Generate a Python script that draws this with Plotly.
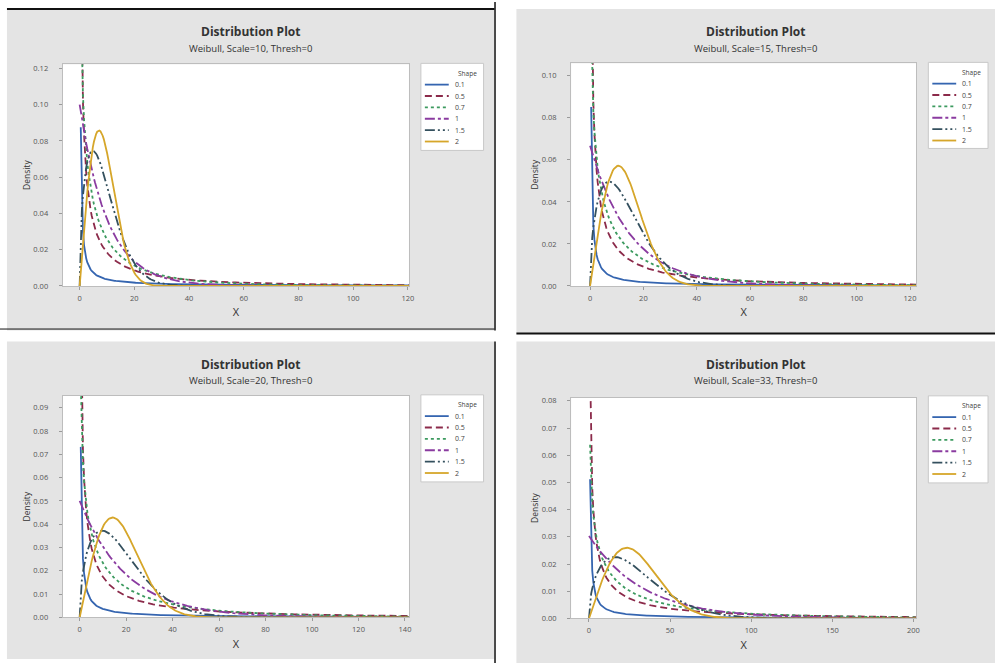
import numpy as np
import plotly.graph_objects as go

# ---- chart data ----
SHAPES = [0.1, 0.5, 0.7, 1.0, 1.5, 2.0]
SHAPE_LABELS = ["0.1", "0.5", "0.7", "1", "1.5", "2"]
SCALES = [10, 15, 20, 33]
SUBTITLES = ["Weibull, Scale=10, Thresh=0", "Weibull, Scale=15, Thresh=0",
             "Weibull, Scale=20, Thresh=0", "Weibull, Scale=33, Thresh=0"]
X_MIN = [-6.2, -7.1, -7.3, -11.0]
X_MAX = [120.4, 122.4, 141.7, 201.8]
Y_MAX = [0.1222, 0.1059, 0.0951, 0.0811]
X_TICKS = [[0, 20, 40, 60, 80, 100, 120],
           [0, 20, 40, 60, 80, 100, 120],
           [0, 20, 40, 60, 80, 100, 120, 140],
           [0, 50, 100, 150, 200]]
Y_TICKS = [[0.00, 0.02, 0.04, 0.06, 0.08, 0.10, 0.12],
           [0.00, 0.02, 0.04, 0.06, 0.08, 0.10],
           [0.00, 0.01, 0.02, 0.03, 0.04, 0.05, 0.06, 0.07, 0.08, 0.09],
           [0.00, 0.01, 0.02, 0.03, 0.04, 0.05, 0.06, 0.07, 0.08]]

# ---- styles / geometry (pixels in the 1000x668 page) ----
COLORS = ["#3565B0", "#8B2A4A", "#3C9A5F", "#8A3BA0", "#34505E", "#D6A62A"]
DASHES = ["solid", "7px,4px", "3px,3px", "10px,3px,3px,3px",
          "10px,3px,2px,3px,2px,3px", "solid"]
W, H = 1000, 668
PLOT_BOX = [(63, 411, 63, 287), (574, 921, 62, 287),
            (63, 411, 398, 622), (574, 921, 400, 623)]
GRAY_BOX = [(7, 497, 7, 332), (519, 1000, 7, 335),
            (7, 497, 343, 664), (519, 1000, 343, 668)]
LEGEND_BOX = [(423, 486, 62, 150), (933, 993, 61, 148),
              (423, 486, 397, 485), (933, 993, 398, 486)]
FONT = "Open Sans, Noto Sans, sans-serif"


def px_x(v):
    return v / W


def px_y(v):
    return 1 - v / H


def weibull_pdf(x, k, lam):
    return (k / lam) * (x / lam) ** (k - 1) * np.exp(-(x / lam) ** k)


fig = go.Figure()
shapes = []
annotations = []
layout = {}

for p in range(4):
    ax = "" if p == 0 else str(p + 1)
    xref, yref = "x" + ax, "y" + ax
    n = 300
    grid = np.linspace(X_MAX[p] / n, X_MAX[p], n)
    for i, k in enumerate(SHAPES):
        xs = grid if k < 1 else np.concatenate([[0.0], grid])
        ys = weibull_pdf(xs, k, SCALES[p])
        fig.add_trace(go.Scatter(
            x=xs, y=ys, mode="lines", name=SHAPE_LABELS[i],
            xaxis=xref, yaxis=yref, showlegend=False,
            line=dict(color=COLORS[i], width=1.8, dash=DASHES[i])))

    x0, x1, y0, y1 = PLOT_BOX[p]
    common = dict(showgrid=False, zeroline=False, showline=True,
                  linecolor="#BDBDBD", linewidth=1, mirror=True,
                  ticks="outside", ticklen=3, tickcolor="#9A9A9A",
                  tickfont=dict(family=FONT, size=7.5, color="#555555"))
    layout["xaxis" + ax] = dict(
        domain=[px_x(x0), px_x(x1)], anchor=yref, range=[X_MIN[p], X_MAX[p]],
        tickvals=X_TICKS[p], ticklabelstandoff=2,
        title=dict(text="X", standoff=6,
                   font=dict(family=FONT, size=11, color="#333333")),
        **common)
    layout["yaxis" + ax] = dict(
        domain=[px_y(y1), px_y(y0)], anchor=xref, range=[0, Y_MAX[p]],
        tickvals=Y_TICKS[p], tickformat=".2f", ticklabelstandoff=9,
        title=dict(text="Density", standoff=1,
                   font=dict(family=FONT, size=8.5, color="#333333")),
        **common)

    # panel background
    g0, g1, h0, h1 = GRAY_BOX[p]
    shapes.append(dict(type="rect", xref="paper", yref="paper", layer="below",
                       x0=px_x(g0), x1=px_x(g1), y0=px_y(h1), y1=px_y(h0),
                       fillcolor="#E4E4E4", line=dict(width=0)))
    shapes.append(dict(type="rect", xref="paper", yref="paper", layer="below",
                       x0=px_x(x0), x1=px_x(x1), y0=px_y(y1), y1=px_y(y0),
                       fillcolor="white", line=dict(width=0)))

    # titles
    cx = (g0 + g1) / 2
    annotations.append(dict(text="<b>Distribution Plot</b>", xref="paper",
                            yref="paper", x=px_x(cx), y=px_y(h0 + 23),
                            xanchor="center", yanchor="middle", showarrow=False,
                            font=dict(family=FONT, size=12, color="#333333")))
    annotations.append(dict(text=SUBTITLES[p], xref="paper", yref="paper",
                            x=px_x(cx), y=px_y(h0 + 40), xanchor="center",
                            yanchor="middle", showarrow=False,
                            font=dict(family=FONT, size=9.5, color="#333333")))

    # legend box (drawn like the Minitab legend)
    lx0, lx1, ly0, ly1 = LEGEND_BOX[p]
    shapes.append(dict(type="rect", xref="paper", yref="paper",
                       x0=px_x(lx0), x1=px_x(lx1), y0=px_y(ly1), y1=px_y(ly0),
                       fillcolor="white", line=dict(color="#C8C8C8", width=1)))
    annotations.append(dict(text="Shape", xref="paper", yref="paper",
                            x=px_x(lx1 - 5), y=px_y(ly0 + 10), xanchor="right",
                            yanchor="middle", showarrow=False,
                            font=dict(family=FONT, size=6.5, color="#444444")))
    for i, lab in enumerate(SHAPE_LABELS):
        yy = ly0 + 21.5 + 11.5 * i
        shapes.append(dict(type="line", xref="paper", yref="paper",
                           x0=px_x(lx0 + 4), x1=px_x(lx0 + 28),
                           y0=px_y(yy), y1=px_y(yy),
                           line=dict(color=COLORS[i], width=1.8,
                                     dash=DASHES[i])))
        annotations.append(dict(text=lab, xref="paper", yref="paper",
                                x=px_x(lx0 + 32), y=px_y(yy), xanchor="left",
                                yanchor="middle", showarrow=False,
                                font=dict(family=FONT, size=7,
                                          color="#444444")))

# scan-edge lines of the pasted screenshots
for (a, b, c, d, w) in [(7, 7, 497, 7, 2), (497.5, 0, 497.5, 332, 1.5),
                        (497.5, 343, 497.5, 668, 1.5), (519, 335, 1000, 335, 2),
                        (0, 330.5, 497, 330.5, 1)]:
    shapes.append(dict(type="line", xref="paper", yref="paper",
                       x0=px_x(a), y0=px_y(b), x1=px_x(c), y1=px_y(d),
                       line=dict(color="#111111", width=w)))

fig.update_layout(width=W, height=H, margin=dict(l=0, r=0, t=0, b=0),
                  paper_bgcolor="white", plot_bgcolor="white",
                  shapes=shapes, annotations=annotations, **layout)
fig.write_html("out.html", config={"displayModeBar": False},
               post_script="document.body.style.margin='0px';"
                           "document.body.style.overflow='hidden';")
